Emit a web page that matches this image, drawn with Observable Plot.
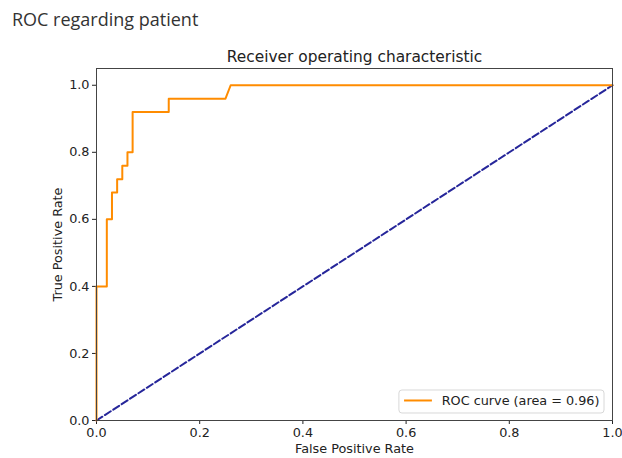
<!DOCTYPE html>
<html>
<head>
<meta charset="utf-8">
<script src="https://cdn.jsdelivr.net/npm/d3@7"></script>
<script src="https://cdn.jsdelivr.net/npm/@observablehq/plot@0.6"></script>
<style>
  html, body { margin: 0; padding: 0; background: #fff; }
  #wrap { position: relative; width: 622px; height: 458px; overflow: hidden; }
  #pagetitle { position: absolute; left: 12px; top: 7px; font-family: "Open Sans", "Noto Sans", sans-serif; font-size: 18px; color: #333; }
  #chart { position: absolute; left: 0; top: 40px; }
</style>
</head>
<body>
<div id="wrap">
  <div id="pagetitle">ROC regarding patient</div>
  <div id="chart"></div>
</div>
<script>
const pageTitle = "ROC regarding patient";
const chartTitle = "Receiver operating characteristic";
const xLabel = "False Positive Rate";
const yLabel = "True Positive Rate";
const legendLabel = "ROC curve (area = 0.96)";
const fpr = [0, 0, 0.02, 0.02, 0.03, 0.03, 0.04, 0.04, 0.05, 0.05, 0.06, 0.06, 0.07, 0.07, 0.14, 0.14, 0.25, 0.26, 1.0];
const tpr = [0, 0.4, 0.4, 0.6, 0.6, 0.68, 0.68, 0.72, 0.72, 0.76, 0.76, 0.8, 0.8, 0.92, 0.92, 0.96, 0.96, 1.0, 1.0];
const chanceX = [0, 1];
const chanceY = [0, 1];
const ticks = [0, 0.2, 0.4, 0.6, 0.8, 1.0];

const roc = fpr.map((x, i) => ({x, y: tpr[i]}));
const chance = chanceX.map((x, i) => ({x, y: chanceY[i]}));

document.getElementById("pagetitle").textContent = pageTitle;

const W = 622, H = 418;
const chart = Plot.plot({
  width: W, height: H,
  marginTop: 28, marginBottom: 38, marginLeft: 96, marginRight: 10,
  style: {fontFamily: "'DejaVu Sans', sans-serif", fontSize: "12.8px", color: "#222", background: "#fff"},
  x: {domain: [0, 1], ticks, tickFormat: d3.format(".1f"), label: null, tickSize: 4, tickPadding: 3},
  y: {domain: [0, 1.05], ticks, tickFormat: d3.format(".1f"), label: null, tickSize: 4, tickPadding: 3},
  marks: [
    Plot.line(chance, {x: "x", y: "y", stroke: "#26269a", strokeWidth: 2, strokeDasharray: "7,3"}),
    Plot.line(roc, {x: "x", y: "y", stroke: "darkorange", strokeWidth: 2}),
    Plot.frame({stroke: "#444", strokeWidth: 1}),
    Plot.text([chartTitle], {text: d => d, frameAnchor: "top", lineAnchor: "middle", dy: -11, fontSize: 15.4, fill: "#222"}),
    Plot.text([xLabel], {text: d => d, frameAnchor: "bottom", lineAnchor: "middle", dy: 28, fill: "#222"}),
    Plot.text([yLabel], {text: d => d, frameAnchor: "left", textAnchor: "middle", lineAnchor: "middle", dx: -39, rotate: -90, fill: "#222"}),
    // legend
    Plot.rect([0], {x1: 0.587, x2: 0.9845, y1: 0.0209, y2: 0.0895, fill: "white", stroke: "#d8d8d8", rx: 3}),
    Plot.ruleY([0.0597], {x1: 0.597, x2: 0.651, stroke: "darkorange", strokeWidth: 2}),
    Plot.text([legendLabel], {text: d => d, x: 0.669, y: 0.0597, textAnchor: "start", lineAnchor: "middle", fill: "#222"})
  ]
});
document.getElementById("chart").appendChild(chart);
</script>
</body>
</html>
